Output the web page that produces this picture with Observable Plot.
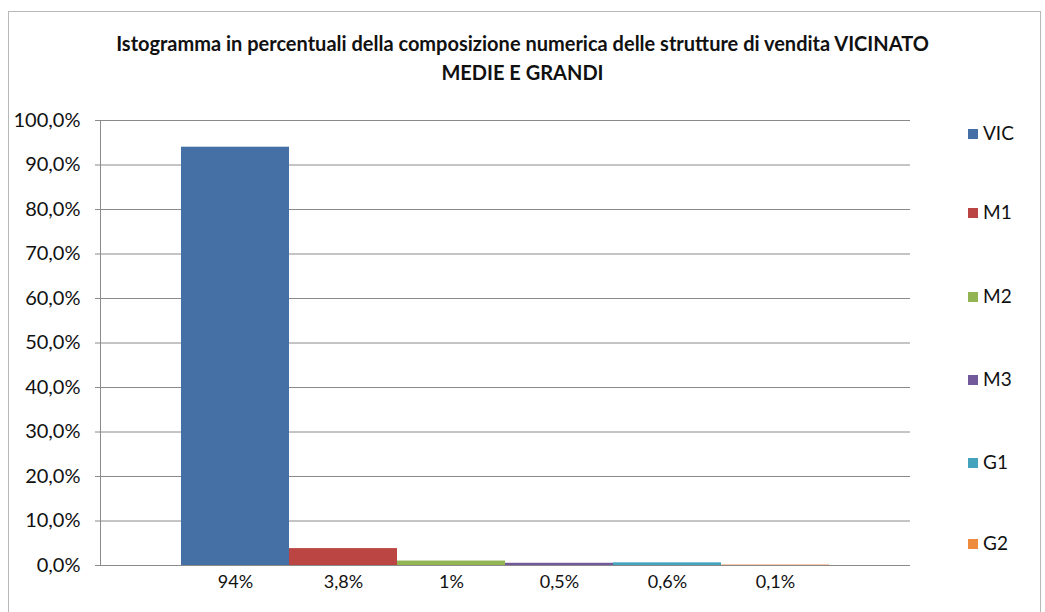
<!DOCTYPE html>
<html><head><meta charset="utf-8">
<script src="https://cdn.jsdelivr.net/npm/d3@7"></script>
<script src="https://cdn.jsdelivr.net/npm/@observablehq/plot@0.6"></script>
<style>
body{margin:0;background:#fff;font-family:Lato,"Open Sans",sans-serif;}
#wrap{position:relative;width:1045px;height:612px;overflow:hidden;}
#border{position:absolute;left:8px;top:11px;width:1033px;height:640px;border:1.5px solid #b8b8b8;box-sizing:border-box;}
#title{position:absolute;left:0;top:29px;width:1045px;text-align:center;font-weight:bold;font-size:20px;line-height:29px;color:#111;}
#legend{position:absolute;left:968px;top:0;}
.li{position:absolute;left:0;white-space:nowrap;font-size:19px;color:#111;}
.sw{display:inline-block;width:10px;height:10px;margin-right:5px;vertical-align:1px;}
#chart{position:absolute;left:0;top:0;}
</style></head>
<body><div id="wrap"><div id="border"></div><div id="chart"></div><div id="title"></div><div id="legend"></div></div>
<script>
const titleLines = ["Istogramma in percentuali della composizione numerica delle strutture di vendita VICINATO", "MEDIE E GRANDI"];
const series = ["VIC", "M1", "M2", "M3", "G1", "G2"];
const values = [94, 3.8, 1, 0.5, 0.6, 0.1];
const valueLabels = ["94%", "3,8%", "1%", "0,5%", "0,6%", "0,1%"];
const colors = ["#4470a6", "#bb4542", "#93b452", "#71599c", "#44a4bd", "#ee8b3f"];
const yTicks = [0, 10, 20, 30, 40, 50, 60, 70, 80, 90, 100];
const legendY = [133, 212, 296, 379, 462, 543];

const data = series.map((s, i) => ({series: s, value: values[i]}));
const labelOf = Object.fromEntries(series.map((s, i) => [s, valueLabels[i]]));

document.getElementById("title").innerHTML = titleLines.join("<br>");

const chart = Plot.plot({
  width: 1045, height: 612,
  marginLeft: 100, marginRight: 135, marginTop: 120, marginBottom: 47,
  style: {fontFamily: "Lato, 'Open Sans', sans-serif", fontSize: "16px", color: "#111", background: "transparent"},
  x: {domain: series, paddingInner: 0, paddingOuter: 0.75, align: 0.5},
  y: {domain: [0, 100]},
  color: {domain: series, range: colors},
  marks: [
    Plot.gridY(yTicks, {stroke: "#8a8a8a", strokeOpacity: 1}),
    Plot.barY(data, {x: "series", y: "value", fill: "series"}),
    Plot.ruleY([0], {stroke: "#8a8a8a"}),
    Plot.frame({anchor: "left", stroke: "#8a8a8a"}),
    Plot.axisY(yTicks, {tickSize: 5, tickPadding: 15, stroke: "#8a8a8a", label: null,
      tickFormat: d => d.toFixed(1).replace(".", ",") + "%", fill: "#111", fontSize: 20}),
    Plot.axisX({tickSize: 0, tickPadding: 10, label: null, tickFormat: d => labelOf[d], fill: "#111", fontSize: 18})
  ]
});
document.getElementById("chart").appendChild(chart);

const leg = document.getElementById("legend");
series.forEach((s, i) => {
  const d = document.createElement("div");
  d.className = "li";
  d.style.top = (legendY[i] - 12) + "px";
  d.innerHTML = `<span class="sw" style="background:${colors[i]}"></span>${s}`;
  leg.appendChild(d);
});
</script></body></html>
